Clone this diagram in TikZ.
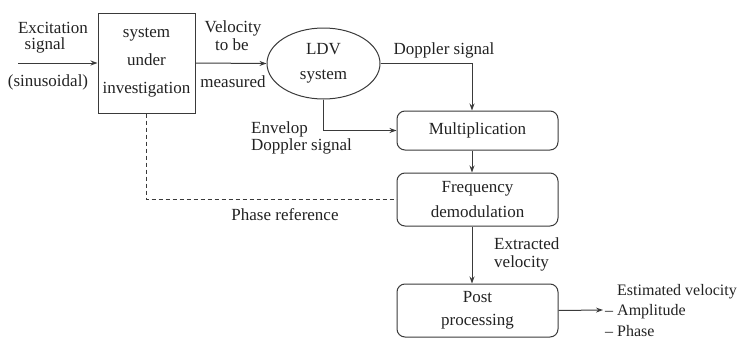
\documentclass[tikz,border=0pt]{standalone}
\usepackage{fontspec}
\setmainfont{Liberation Serif}
\usepackage{tikz}
\usetikzlibrary{positioning,arrows.meta,shapes.geometric}
\definecolor{ink}{HTML}{222222}
\definecolor{wire}{HTML}{3A3A3A}
\tikzset{
  blk/.style   = {draw=wire, line width=1pt, inner sep=0pt, align=center,
                  text=ink},
  rbox/.style  = {blk, rounded corners=8pt, minimum width=161pt},
  lab/.style   = {text=ink, inner sep=1pt},
  sig/.style   = {->, draw=wire, line width=1pt, >={Stealth[length=7pt,width=5pt]}},
  phase/.style = {draw=wire, line width=1pt, dash pattern=on 4pt off 3pt},
}

\begin{document}
\begin{tikzpicture}[x=1pt,y=-1pt,font=\fontsize{17}{17}\selectfont]
    \useasboundingbox (0,0) rectangle (742,340);
    % blocks
    \node[blk, minimum width=97pt, minimum height=100pt,
          font=\fontsize{17}{28}\selectfont] (sys) at (146.5,63)
      {system\\under\\investigation};
    \node[blk, ellipse, minimum width=113pt, minimum height=71pt,
          font=\fontsize{17}{25}\selectfont] (ldv) at (323.5,63.5)
      {LDV\\system};
    \node[rbox, minimum height=39pt] (mult) at (477.5,130.5) {Multiplication};
    \node[rbox, minimum height=53pt, font=\fontsize{17}{25}\selectfont]
      (freq) at (477.5,199.5) {Frequency\\demodulation};
    \node[rbox, minimum height=53pt, font=\fontsize{17}{23}\selectfont]
      (post) at (477.5,310.5) {Post\\processing};
    \coordinate (in)  at (18,63);
    \coordinate (out) at (603,310);
    \coordinate (dn)  at (472,0);
    % signal paths
    \draw[sig] (in) -- (sys.west);
    \draw[sig] (sys.east) -- (ldv.west);
    \draw[sig] (ldv.east) -| (mult.north -| dn);
    \draw[sig] (ldv.south) |- (mult.west);
    \draw[sig] (mult.south -| dn) -- (freq.north -| dn);
    \draw[sig] (freq.south -| dn) -- (post.north -| dn);
    \draw[sig] (post.east) -- (out);
    \draw[phase] (sys.south) |- (freq.west);
    % labels
    \node[lab] (exc) at (53,28) {Excitation};
    \node[lab] (excs) at (45,45) {signal};
    \node[lab] (sinus) at (48,82) {(sinusoidal)};
    \node[lab] (velo) at (233,28) {Velocity};
    \node[lab] (tobe) at (232,45) {to be};
    \node[lab] (meas) at (233,82) {measured};
    \node[lab] (dopp) at (444,50) {Doppler signal};
    \node[lab, anchor=west, align=left, font=\fontsize{17}{17}\selectfont]
      (envl) at (250,137.5) {Envelop\\Doppler signal};
    \node[lab] (phref) at (285,215) {Phase reference};
    \node[lab, anchor=west, align=left, font=\fontsize{17}{18}\selectfont]
      (extr) at (493,254) {Extracted\\velocity};
    \node[lab, anchor=west, font=\fontsize{16}{16}\selectfont]
      (estv) at (616,292) {Estimated velocity};
    \node[lab, anchor=west, font=\fontsize{16}{16}\selectfont]
      (ampl) at (604,312) {-- Amplitude};
    \node[lab, anchor=west, font=\fontsize{16}{16}\selectfont]
      (phs) at (604,331) {-- Phase};
\end{tikzpicture}
\end{document}
